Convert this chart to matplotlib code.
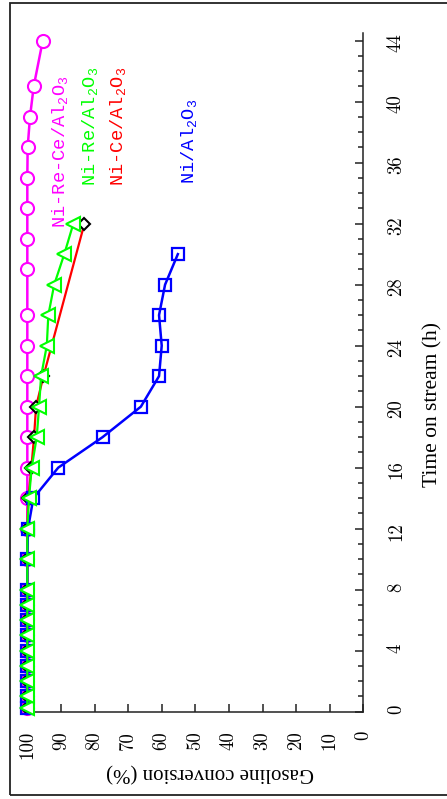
import matplotlib
matplotlib.use('Agg')
import matplotlib.pyplot as plt
from matplotlib.patches import Rectangle
from matplotlib.ticker import MultipleLocator

plt.rcParams['font.family'] = 'serif'
plt.rcParams['font.serif'] = ['Liberation Serif', 'DejaVu Serif']

# time on stream (h) and gasoline conversion (%) for each catalyst
time_nireco = [0.25, 1, 2, 3, 4, 5, 6, 7, 8, 10, 12, 14, 16, 18, 20, 22, 24, 26, 29, 31, 33, 35, 37, 39, 41, 44]
conv_nireco = [100, 100, 100, 100, 100, 100, 100, 100, 100, 100, 100, 100, 100, 100, 100, 100, 100, 100, 100, 100, 100, 100, 99.9, 99.2, 98.1, 95.4]

time_nice = [0.25, 1, 2, 3, 4, 5, 6, 7, 8, 10, 12, 14, 16, 18, 20, 22, 32]
conv_nice = [100, 100, 100, 100, 100, 100, 100, 100, 100, 100, 100, 99.7, 98.8, 98.0, 97.4, 95.2, 83.0]

time_ni = [0.25, 1, 2, 3, 4, 5, 6, 7, 8, 10, 12, 14, 16, 18, 20, 22, 24, 26, 28, 30]
conv_ni = [100, 100, 100, 100, 100, 100, 100, 100, 100, 100, 99.8, 98.2, 90.8, 77.6, 66.2, 60.8, 60.0, 60.8, 59.0, 55.2]

time_nire = [0.25, 1, 2, 3, 4, 5, 6, 7, 8, 10, 12, 14, 16, 18, 20, 22, 24, 26, 28, 30, 32]
conv_nire = [100, 100, 100, 100, 100, 100, 100, 100, 100, 100, 100, 99.5, 98.7, 97.2, 96.5, 95.9, 94.2, 93.75, 92.0, 89.0, 86.3]

conv_ticks = [0, 10, 20, 30, 40, 50, 60, 70, 80, 90, 100]
time_ticks = [0, 4, 8, 12, 16, 20, 24, 28, 32, 36, 40, 44]

fig = plt.figure(figsize=(4.47, 7.99), dpi=100)
ax = fig.add_axes([0.0611, 0.1093, 0.7517, 0.8494])

ax.plot(conv_nireco, time_nireco, color='#ff00ff', lw=1.8, marker='o', ms=9.4,
        mfc='white', mec='#ff00ff', mew=1.5, zorder=2, clip_on=False)
ax.plot(conv_nice, time_nice, color='red', lw=1.6, marker='D', ms=5.9,
        mfc='white', mec='black', mew=1.5, zorder=3, clip_on=False)
ax.plot(conv_ni, time_ni, color='blue', lw=1.8, marker='s', ms=9.2,
        mfc='none', mec='blue', mew=1.6, zorder=4, clip_on=False)
ax.plot(conv_nire, time_nire, color='#00ff00', lw=1.6, marker='<', ms=9.4,
        mfc='white', mec='#00ff00', mew=1.5, zorder=5, clip_on=False)

# labels written next to the curves
ax.text(90.0, 36.7, 'Ni-Re-Ce/Al$_\\mathregular{2}$O$_\\mathregular{3}$', color='#ff00ff',
        rotation=90, ha='center', va='center', family='Liberation Mono', fontsize=13.5)
ax.text(81.0, 38.4, 'Ni-Re/Al$_\\mathregular{2}$O$_\\mathregular{3}$', color='#00ff00',
        rotation=90, ha='center', va='center', family='Liberation Mono', fontsize=13.5)
ax.text(72.7, 38.4, 'Ni-Ce/Al$_\\mathregular{2}$O$_\\mathregular{3}$', color='red',
        rotation=90, ha='center', va='center', family='Liberation Mono', fontsize=13.5)
ax.text(51.5, 37.4, 'Ni/Al$_\\mathregular{2}$O$_\\mathregular{3}$', color='blue',
        rotation=90, ha='center', va='center', family='Liberation Mono', fontsize=13.5)

ax.set_xlim(100, 0)
ax.set_ylim(0, 44.5)
ax.set_xticks(conv_ticks)
ax.set_yticks(time_ticks)
ax.yaxis.set_minor_locator(MultipleLocator(1))

ax.spines['top'].set_visible(False)
ax.spines['left'].set_visible(False)
for s in ['bottom', 'right']:
    ax.spines[s].set_linewidth(1.1)
    ax.spines[s].set_color('#222222')

ax.tick_params(axis='x', direction='in', length=5.8, width=1.1, color='#222222',
               labelrotation=90, pad=14, labelsize=13.5, labelfontfamily='cmr10')
ax.tick_params(axis='y', which='both', direction='in', left=False, right=True,
               labelleft=False, labelright=True, width=1.1, color='#222222')
ax.tick_params(axis='y', which='major', length=5.8, labelrotation=90, pad=17,
               labelsize=13.5, labelfontfamily='cmr10')
ax.tick_params(axis='y', which='minor', length=3.6)

ax.text(0.544, -0.0756, 'Gasoline conversion (%)', transform=ax.transAxes,
        rotation=180, ha='center', va='top', fontsize=15)
ax.text(1.178, 0.453, 'Time on stream (h)', transform=ax.transAxes,
        rotation=90, ha='left', va='center', fontsize=15.5)

fig.patches.append(Rectangle((0.0224, 0.0044), 1.0, 0.9918, transform=fig.transFigure,
                             fill=False, lw=1.3, ec='#222222'))

fig.savefig('out.png', dpi=100)
